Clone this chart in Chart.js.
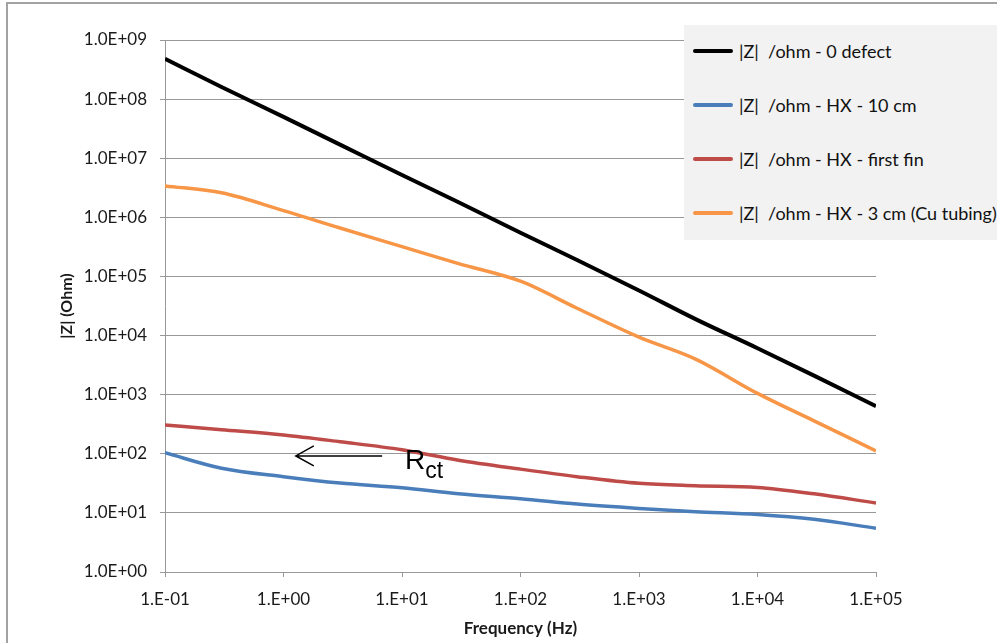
<!DOCTYPE html>
<html>
<head>
<meta charset="utf-8">
<script src="https://cdn.jsdelivr.net/npm/chart.js@4"></script>
<style>
  body { margin: 0; width: 997px; height: 643px; overflow: hidden; background: #fff; position: relative; font-family: Lato, sans-serif; }
  #frame { position: absolute; left: 6px; top: 2px; width: 1100px; height: 800px; border-top: 2px solid #a3a3a3; border-left: 2px solid #a3a3a3; }
  #chart { position: absolute; left: 0; top: 0; }
  #legend { position: absolute; left: 684px; top: 25px; width: 340px; height: 215px; background: #f2f2f2; }
  .item { position: absolute; left: 0; height: 24px; width: 340px; }
  .swatch { position: absolute; left: 9px; top: 10px; width: 40px; height: 4px; border-radius: 2px; }
  .label { position: absolute; left: 55px; top: 0; line-height: 24px; font-size: 18px; white-space: nowrap; color: #111; }
  #rct { position: absolute; left: 405px; top: 446px; font-family: "Liberation Sans", Arial, sans-serif; font-size: 28px; line-height: 28px; color: #000; }
  #rct span { font-size: 23px; vertical-align: -9px; }
</style>
</head>
<body>
<div id="frame"></div>
<canvas id="chart" width="997" height="643"></canvas>
<div id="legend"></div>
<div id="rct">R<span>ct</span></div>
<script>
// Data (frequency in Hz, |Z| in ohm)
const frequencies = [0.1, 0.3, 1, 3, 10, 30, 100, 300, 1000, 3000, 10000, 30000, 100000];
const zZeroDefect = [4.8e8, 1.6e8, 5.0e7, 1.7e7, 5.2e6, 1.8e6, 5.5e5, 1.9e5, 5.8e4, 1.9e4, 6.1e3, 2.1e3, 640];
const zHx10cm = [104, 57, 41, 32, 26.6, 21, 17.4, 14.1, 11.9, 10.5, 9.4, 7.8, 5.5];
const zFirstFin = [306, 255, 208, 160, 117, 78, 55, 41, 31.6, 28.8, 27, 21, 14.7];
const zHx3cm = [3.4e6, 2.6e6, 1.3e6, 6.6e5, 3.2e5, 1.65e5, 8.3e4, 2.9e4, 9.4e3, 4.0e3, 1.05e3, 360, 112];

const seriesLabels = [
    '|Z|  /ohm - 0 defect',
    '|Z|  /ohm - HX - 10 cm',
    '|Z|  /ohm - HX - first fin',
    '|Z|  /ohm - HX - 3 cm (Cu tubing)'
];
const seriesValues = [zZeroDefect, zHx10cm, zFirstFin, zHx3cm];
const seriesColors = ['#000000', '#4a7ebb', '#be4b48', '#f79646'];
const seriesWidths = [4, 3.5, 3.5, 3.5];

// Axis ticks
const xTickValues = [0.1, 1, 10, 100, 1000, 10000, 100000];
const xTickLabels = ['1.E-01', '1.E+00', '1.E+01', '1.E+02', '1.E+03', '1.E+04', '1.E+05'];
const yTickValues = [1, 10, 100, 1e3, 1e4, 1e5, 1e6, 1e7, 1e8, 1e9];
const yTickLabels = ['1.0E+00', '1.0E+01', '1.0E+02', '1.0E+03', '1.0E+04', '1.0E+05', '1.0E+06', '1.0E+07', '1.0E+08', '1.0E+09'];

// R_ct arrow (frequency from, frequency to, |Z| level)
const rctArrow = { from: 6.8, to: 1.27, level: 92 };

const gridColor = '#989898';

const arrowPlugin = {
    id: 'rctArrow',
    afterDatasetsDraw(chart) {
        const { ctx, scales: { x, y } } = chart;
        const x1 = x.getPixelForValue(rctArrow.from);
        const x2 = x.getPixelForValue(rctArrow.to);
        const yy = y.getPixelForValue(rctArrow.level);
        ctx.save();
        ctx.strokeStyle = '#000';
        ctx.lineWidth = 1.5;
        ctx.beginPath();
        ctx.moveTo(x1, yy);
        ctx.lineTo(x2, yy);
        ctx.moveTo(x2 + 18, yy - 10);
        ctx.lineTo(x2, yy);
        ctx.lineTo(x2 + 18, yy + 10);
        ctx.stroke();
        ctx.restore();
    }
};

const datasets = seriesLabels.map((label, i) => ({
    label,
    data: frequencies.map((f, j) => ({ x: f, y: seriesValues[i][j] })),
    borderColor: seriesColors[i],
    backgroundColor: seriesColors[i],
    borderWidth: seriesWidths[i],
    pointRadius: 0,
    cubicInterpolationMode: 'monotone',
    fill: false
}));

const ctx = document.getElementById('chart').getContext('2d');
const chart = new Chart(ctx, {
    type: 'line',
    data: { datasets },
    options: {
        responsive: false,
        animation: false,
        devicePixelRatio: 1,
        layout: { padding: { left: 0, right: 121, top: 40, bottom: 0 } },
        plugins: {
            legend: { display: false },
            tooltip: { enabled: false }
        },
        scales: {
            x: {
                type: 'logarithmic',
                min: 0.1,
                max: 100000,
                afterBuildTicks: scale => { scale.ticks = xTickValues.map(v => ({ value: v })); },
                afterFit: scale => { scale.height = 71; },
                ticks: {
                    autoSkip: false,
                    maxRotation: 0,
                    padding: 12,
                    color: '#1a1a1a',
                    font: { family: 'Lato', size: 17 },
                    callback: (value, index) => xTickLabels[index]
                },
                grid: { drawOnChartArea: false, drawTicks: true, tickLength: 5, color: gridColor },
                border: { display: true, color: gridColor },
                title: {
                    display: true,
                    text: 'Frequency (Hz)',
                    color: '#1a1a1a',
                    font: { family: 'Lato', size: 17, weight: 'bold' },
                    padding: { top: 0, bottom: 4 }
                }
            },
            y: {
                type: 'logarithmic',
                min: 1,
                max: 1e9,
                afterBuildTicks: scale => { scale.ticks = yTickValues.map(v => ({ value: v })); },
                afterFit: scale => { scale.width = 165; },
                ticks: {
                    autoSkip: false,
                    padding: 13,
                    color: '#1a1a1a',
                    font: { family: 'Lato', size: 17 },
                    callback: (value, index) => yTickLabels[index]
                },
                grid: { color: gridColor, lineWidth: 1, tickLength: 5 },
                border: { display: true, color: gridColor },
                title: {
                    display: true,
                    text: '|Z| (Ohm)',
                    color: '#1a1a1a',
                    font: { family: 'Lato', size: 16, weight: 'bold' },
                    padding: { top: 57, bottom: 0 }
                }
            }
        }
    },
    plugins: [arrowPlugin]
});

// Build the legend box from the chart's datasets
const legendBox = document.getElementById('legend');
chart.data.datasets.forEach((ds, i) => {
    const item = document.createElement('div');
    item.className = 'item';
    item.style.top = (14 + i * 54) + 'px';
    item.innerHTML = `<div class="swatch" style="background:${ds.borderColor}"></div><div class="label">${ds.label.replace(/  /g, ' &nbsp;')}</div>`;
    legendBox.appendChild(item);
});
</script>
</body>
</html>
